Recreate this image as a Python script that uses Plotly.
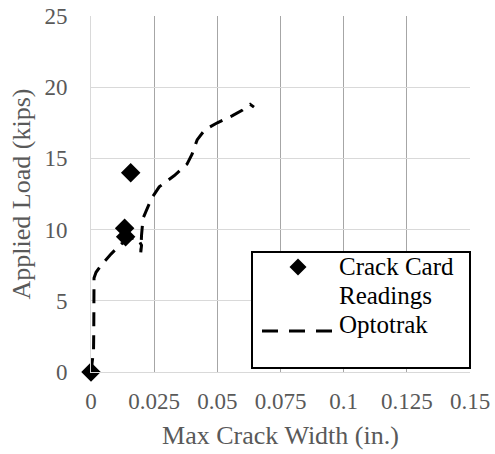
import plotly.graph_objects as go

# Crack card readings (in., kips)
card_width = [0.0, 0.0133, 0.0137, 0.0157]
card_load = [0.0, 10.1, 9.5, 14.0]

# Optotrak crack width history (in., kips)
opto_width = [0.0, 0.0005, 0.0010, 0.0011, 0.0011, 0.0012, 0.0020, 0.0040, 0.0080, 0.0120,
              0.0160, 0.0185, 0.0200, 0.0197, 0.0200, 0.0206, 0.0240, 0.0270, 0.0330,
              0.0380, 0.0400, 0.0420, 0.0450, 0.0500, 0.0560, 0.0600, 0.0630, 0.0645]
opto_load = [0.0, 0.6, 1.5, 3.0, 5.0, 6.6, 7.0, 7.5, 8.3, 9.0,
             9.4, 9.4, 8.9, 8.4, 9.6, 10.8, 12.2, 13.0, 13.8,
             14.6, 15.3, 16.3, 17.0, 17.5, 18.0, 18.4, 18.8, 18.6]

x_ticks = [0, 0.025, 0.05, 0.075, 0.1, 0.125, 0.15]
x_tick_text = ["0", "0.025", "0.05", "0.075", "0.1", "0.125", "0.15"]
y_ticks = [0, 5, 10, 15, 20, 25]

FONT = "Liberation Serif"
GREY = "#595959"
DASH = "14px,9px"

W, H = 495, 454
ML, MR, MT, MB = 91, 25, 16, 82
PW, PH = W - ML - MR, H - MT - MB


def px(x):
    return (x - ML) / PW


def py(y):
    return (H - MB - y) / PH


fig = go.Figure()
fig.add_trace(go.Scatter(
    x=opto_width, y=opto_load, mode="lines", name="Optotrak",
    line=dict(color="black", width=3, dash=DASH), showlegend=False,
))
fig.add_trace(go.Scatter(
    x=card_width, y=card_load, mode="markers", name="Crack Card Readings",
    marker=dict(symbol="diamond", size=15, color="black"),
    cliponaxis=False, showlegend=False,
))

# Legend box drawn by hand
shapes = [
    dict(type="rect", xref="paper", yref="paper",
         x0=px(252), x1=px(470), y0=py(368), y1=py(252),
         line=dict(color="black", width=2), fillcolor="white", layer="above"),
    dict(type="line", xref="paper", yref="paper",
         x0=px(262), x1=px(334), y0=py(331), y1=py(331),
         line=dict(color="black", width=3, dash="16px,11px"), layer="above"),
]
cx, cy, r = 298, 267, 8.5
shapes.append(dict(
    type="path", xref="paper", yref="paper", layer="above",
    path=(f"M{px(cx - r)},{py(cy)} L{px(cx)},{py(cy - r)} "
          f"L{px(cx + r)},{py(cy)} L{px(cx)},{py(cy + r)} Z"),
    fillcolor="black", line=dict(width=0),
))

legend_lines = [("Crack Card", 266), ("Readings", 295), ("Optotrak", 324)]
annotations = [
    dict(xref="paper", yref="paper", x=px(337), y=py(yy), xanchor="left", yanchor="middle",
         text=t, showarrow=False, align="left",
         font=dict(family=FONT, size=25, color="black"))
    for t, yy in legend_lines
]

fig.update_layout(
    width=W, height=H,
    margin=dict(l=ML, r=MR, t=MT, b=MB, autoexpand=False),
    paper_bgcolor="white", plot_bgcolor="white",
    font=dict(family=FONT, size=23, color=GREY),
    shapes=shapes, annotations=annotations,
    xaxis=dict(
        range=[0, 0.15], tickvals=x_ticks, ticktext=x_tick_text,
        showgrid=True, gridcolor="#a6a6a6", gridwidth=1,
        showline=True, linecolor="#d9d9d9", linewidth=1,
        zeroline=False, ticks="", ticklabelstandoff=8, automargin=False,
        tickfont=dict(family=FONT, size=23, color=GREY),
        title=dict(text="Max Crack Width (in.)", font=dict(family=FONT, size=26, color=GREY), standoff=13),
    ),
    yaxis=dict(
        range=[0, 25], tickvals=y_ticks,
        showgrid=True, gridcolor="#d9d9d9", gridwidth=1,
        showline=True, linecolor="#d9d9d9", linewidth=1,
        zeroline=False, ticks="", ticklabelstandoff=18, automargin=False,
        tickfont=dict(family=FONT, size=23, color=GREY),
        title=dict(text="Applied Load (kips)", font=dict(family=FONT, size=26, color=GREY), standoff=6),
    ),
)

fig.write_html("out.html")
